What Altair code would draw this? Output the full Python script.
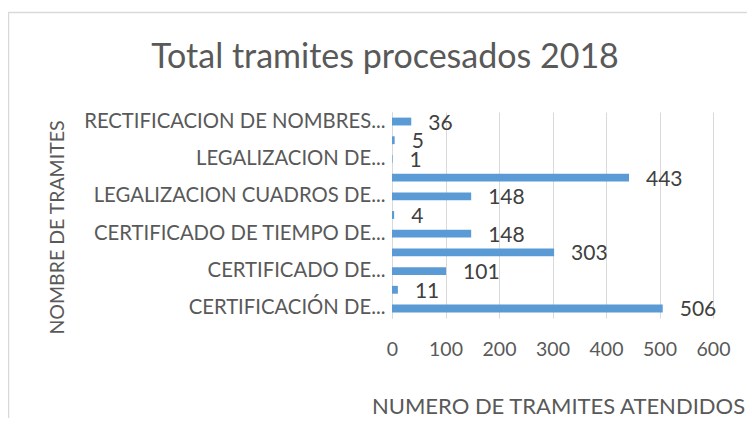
import altair as alt
import pandas as pd

# Categories listed bottom-to-top as in the original chart
categories = [
    "CERTIFICACIÓN DE...",
    "TRAMITE 2",
    "CERTIFICADO DE...",
    "TRAMITE 4",
    "CERTIFICADO DE TIEMPO DE...",
    "TRAMITE 6",
    "LEGALIZACION CUADROS DE...",
    "TRAMITE 8",
    "LEGALIZACION DE...",
    "TRAMITE 10",
    "RECTIFICACION DE NOMBRES...",
]
values = [506, 11, 101, 303, 148, 4, 148, 443, 1, 5, 36]
shown_labels = [c for i, c in enumerate(categories) if i % 2 == 0]
x_ticks = [0, 100, 200, 300, 400, 500, 600]

df = pd.DataFrame({"tramite": categories, "total": values})

FONT = "Lato"
order = list(reversed(categories))
label_list = ",".join("'" + s + "'" for s in shown_labels)

y_enc = alt.Y(
    "tramite:N",
    sort=order,
    scale=alt.Scale(paddingInner=0.58, paddingOuter=0.3),
    axis=alt.Axis(
        title="NOMBRE DE TRAMITES",
        labelExpr=f"indexof([{label_list}], datum.value) >= 0 ? datum.value : ''",
        ticks=False,
        labelPadding=7,
        labelFontSize=20.3,
        labelColor="#595959",
        labelFont=FONT,
        domainColor="#D9D9D9",
        domainWidth=1,
        titleFont=FONT,
        titleFontSize=19.5,
        titleFontWeight="normal",
        titleColor="#595959",
        titleAngle=270,
        titleAlign="center",
        titleBaseline="middle",
        titleX=-335,
        titleY=115,
        labelLimit=400,
    ),
)

x_enc = alt.X(
    "total:Q",
    scale=alt.Scale(domain=[0, 600], nice=False),
    axis=alt.Axis(
        title="NUMERO DE TRAMITES ATENDIDOS",
        values=x_ticks,
        ticks=False,
        domain=False,
        grid=True,
        gridColor="#D9D9D9",
        gridWidth=1,
        labelFlush=False,
        labelPadding=31,
        labelBaseline="middle",
        labelFontSize=19.5,
        labelColor="#595959",
        labelFont=FONT,
        titleFont=FONT,
        titleFontSize=22,
        titleFontWeight="normal",
        titleColor="#595959",
        titleX=166,
        titleY=95,
        titleAlign="center",
        titleBaseline="alphabetic",
        titleLimit=500,
    ),
)

base = alt.Chart(df)

bars = base.mark_bar(color="#5B9BD5").encode(y=y_enc, x=x_enc)

texts = base.mark_text(
    align="left", baseline="middle", dx=17, dy=2,
    fontSize=21, font=FONT, color="#404040",
).encode(y=alt.Y("tramite:N", sort=order), x="total:Q", text="total:Q")

border = alt.Chart(alt.Data(values=[{}])).mark_rect(
    fill=None, stroke="#D9D9D9", strokeWidth=1.5
).encode(
    x=alt.value(-383.5), x2=alt.value(1000),
    y=alt.value(-99.5), y2=alt.value(1000),
)

chart = alt.layer(border, bars, texts).properties(
    width=321,
    height=206,
    padding={"left": 384, "top": 104, "right": 34, "bottom": 100},
    autosize=alt.AutoSizeParams(type="none"),
    title=alt.Title(
        "Total tramites procesados 2018",
        font=FONT,
        fontSize=34,
        fontWeight="normal",
        color="#595959",
        anchor="middle",
        frame="group",
        dx=-167.5,
        dy=134,
        offset=44,
        baseline="alphabetic",
        limit=700,
    ),
).configure_view(stroke=None)

chart.save("out.html", embed_options={"renderer": "svg", "actions": False})
